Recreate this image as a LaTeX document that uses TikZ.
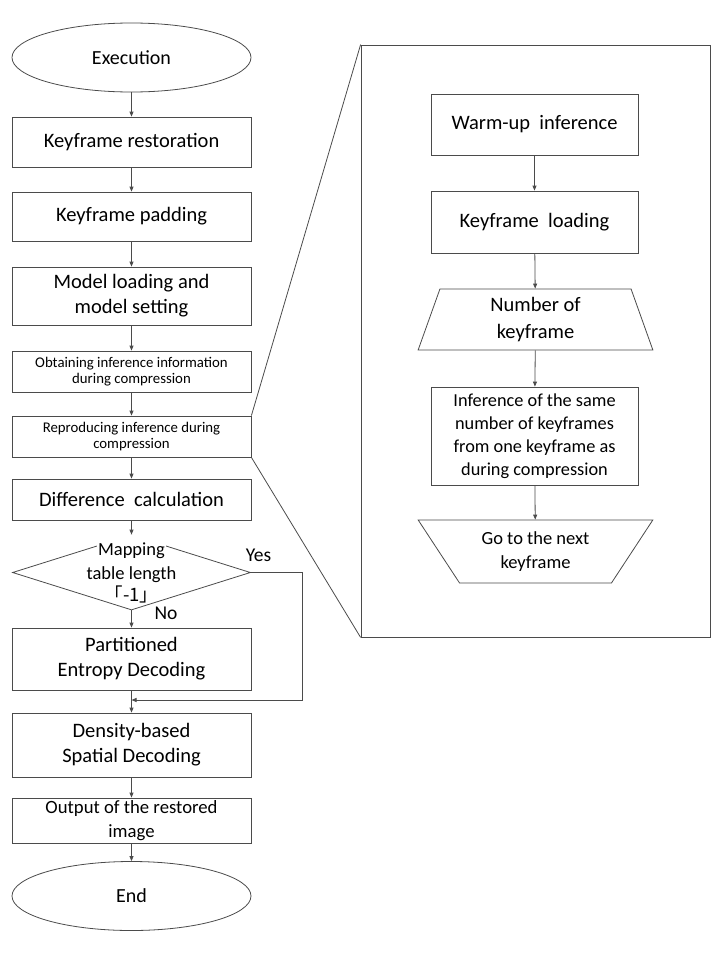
\documentclass[tikz,border=0pt]{standalone}
\usepackage{fontspec}
\setmainfont{Carlito}
\newfontfamily\cjk{Noto Sans CJK JP}
\usetikzlibrary{calc,arrows.meta,shapes.geometric}
\definecolor{linegray}{RGB}{75,75,75}
\tikzset{
  line/.style={draw=linegray, line width=0.8pt},
  flow/.style={line, -{Triangle[length=5pt,width=4pt]}},
  box/.style={line, rectangle, minimum width=239pt, inner sep=0pt, align=center,
    font=\fontsize{20.5}{25}\selectfont},
  smallbox/.style={box, minimum height=41pt, font=\fontsize{14.8}{16}\selectfont},
  rbox/.style={box, minimum width=207pt},
  term/.style={line, ellipse, minimum width=239pt, minimum height=69pt, inner sep=0pt,
    font=\fontsize{20}{24}\selectfont},
  trap/.style={line, trapezium, trapezium stretches=true, inner sep=0pt, align=center,
    font=\fontsize{20.5}{27}\selectfont},
  dtext/.style={inner sep=0pt, align=center, font=\fontsize{18.5}{22}\selectfont},
  tag/.style={inner sep=0pt, font=\fontsize{19.5}{22}\selectfont}
}
\begin{document}
\begin{tikzpicture}[x=1pt,y=-1pt]
		\useasboundingbox (0,0) rectangle (720,980);
		\def\lx{131.5}
		\def\rx{534.5}
		% main flow
		\node[term] (exe) at (\lx,57.5) {Execution};
		\node[box, minimum height=50pt] (restore) at (\lx,142) {Keyframe restoration};
		\node[box, minimum height=49pt] (pad) at (\lx,216.5) {Keyframe padding};
		\node[box, minimum height=58pt] (model) at (\lx,296) {Model loading and\\model setting};
		\node[smallbox] (obtain) at (\lx,371.5) {Obtaining inference information\\during compression};
		\node[smallbox] (reprod) at (\lx,436.5) {Reproducing inference during\\compression};
		\node[box, minimum height=41pt] (diff) at (\lx,499.5) {Difference~ calculation};
		\node[line, diamond, minimum width=238pt, minimum height=75pt, inner sep=0pt] (dec) at (\lx,572.5) {};
		\node[box, minimum height=62pt] (part) at (\lx,659) {Partitioned\\Entropy Decoding};
		\node[box, minimum height=64pt] (dens) at (\lx,745) {Density-based\\Spatial Decoding};
		\node[box, minimum height=45pt, font=\fontsize{18.7}{24}\selectfont] (out) at (\lx,820.5) {Output of the restored\\image};
		\node[term] (end) at (\lx,896) {End};
		\coordinate (yesc) at (302,700);
		\coordinate (join) at (\lx,700);
		\draw[flow] (exe) -- (restore);
		\draw[flow] (restore) -- (pad);
		\draw[flow] (pad) -- (model);
		\draw[flow] (model) -- (obtain);
		\draw[flow] (obtain) -- (reprod);
		\draw[flow] (reprod) -- (diff);
		\draw[flow] (diff) -- (dec);
		\draw[flow] (dec) -- (part);
		\draw[flow] (part) -- (dens);
		\draw[flow] (dec.east) -| (yesc) -- (join);
		\draw[flow] (dens) -- (out);
		\draw[flow] (out) -- (end);
		\node[dtext, fill=white, inner xsep=1pt, inner ysep=8pt] (maptop) at (\lx,551) {Mapping};
		\node[dtext] (maprest) at (\lx,585) {table length\\\cjk{「}-1\cjk{」}};
		\node[tag] (yes) at (258.5,555) {Yes};
		\node[tag] (no) at (166,613) {No};
		% zoomed detail
		\node[line, minimum width=349pt, minimum height=592pt] (panel) at (535.5,341) {};
		\draw[line] (reprod.north east) -- (panel.north west);
		\draw[line] (reprod.south east) -- (panel.south west);
		\node[rbox, minimum height=61pt] (warm) at (\rx,124.5) {Warm-up~ inference};
		\node[rbox, minimum height=62pt] (load) at (\rx,222) {Keyframe~ loading};
		\node[trap, trapezium left angle=77, trapezium right angle=77,
		  minimum width=235pt, minimum height=61pt] (num) at (535.5,319.5) {Number of\\keyframe};
		\node[rbox, minimum height=98pt, font=\fontsize{18.3}{23}\selectfont] (infer) at (\rx,436)
		  {Inference of the same\\number of keyframes\\from one keyframe as\\during compression};
		\node[trap, shape border rotate=180, trapezium left angle=53.6, trapezium right angle=53.6,
		  minimum width=235pt, minimum height=63pt, font=\fontsize{18.5}{24}\selectfont] (next) at (535.5,551.5) {Go to the next\\keyframe};
		\draw[flow] (warm) -- (load);
		\draw[flow] (load) -- (num);
		\draw[flow] (num) -- (infer);
		\draw[flow] (infer) -- (next);
\end{tikzpicture}
\end{document}
